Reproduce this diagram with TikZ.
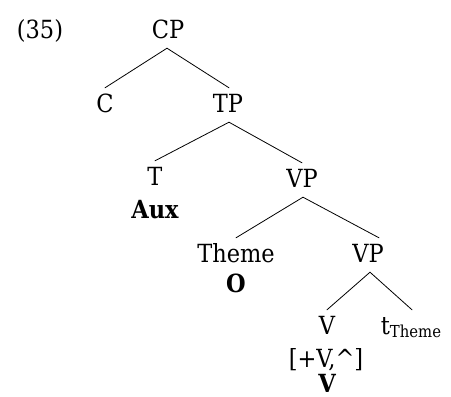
\documentclass[tikz,border=0pt]{standalone}
\usepackage{fontspec}
\setmainfont{DejaVu Serif Condensed}
\begin{document}
\begin{tikzpicture}[x=1pt,y=-1pt,
  every node/.style={font=\fontsize{25}{28}\selectfont},
  cat/.style={anchor=base,inner xsep=0pt,inner ysep=6pt,text height=18pt,text depth=4pt},
  feat/.style={anchor=base,inner sep=0pt},
  featbf/.style={anchor=base,inner sep=0pt,font=\fontsize{25}{28}\selectfont\bfseries},
  branch/.style={line width=0.8pt,line cap=round}]
\useasboundingbox (0,0) rectangle (451,397);

% example number
\node[feat] (ex) at (40,38) {(35)};

% categories
\node[cat] (CP)  at (168,38)  {CP};
\node[cat] (C)   at (105,112) {C};
\node[cat] (TP)  at (228,112) {TP};
\node[cat] (T)   at (155,185) {T};
\node[cat] (VP)  at (302,187) {VP};
\node[cat] (Th)  at (236,262) {Theme};
\node[cat] (VPb) at (368,262) {VP};
\node[cat] (V)   at (327,334) {V};
\node[cat] (tr)  at (411,334) {t\raisebox{-3pt}{\fontsize{16.5}{18}\selectfont Theme}};

% annotations under the heads
\node[featbf] (aux) at (155,218) {Aux};
\node[featbf] (obj) at (236,292) {O};
\node[feat]   (fv)  at (326,367) {[+V,\^{}]};
\node[featbf] (vb)  at (327,392) {V};

% branches
\draw[branch] ([xshift=-1pt]CP.south) -- (C.north);
\draw[branch] ([xshift=-1pt]CP.south) -- ([xshift=1pt]TP.north);
\draw[branch] ([xshift=1pt]TP.south) -- (T.north);
\draw[branch] ([xshift=1pt]TP.south) -- (VP.north);
\draw[branch] ([xshift=1pt]VP.south) -- (Th.north);
\draw[branch] ([xshift=1pt]VP.south) -- ([xshift=11pt]VPb.north);
\draw[branch] ([xshift=2pt]VPb.south) -- (V.north);
\draw[branch] ([xshift=2pt]VPb.south) -- ([xshift=1pt]tr.north);
\end{tikzpicture}
\end{document}
